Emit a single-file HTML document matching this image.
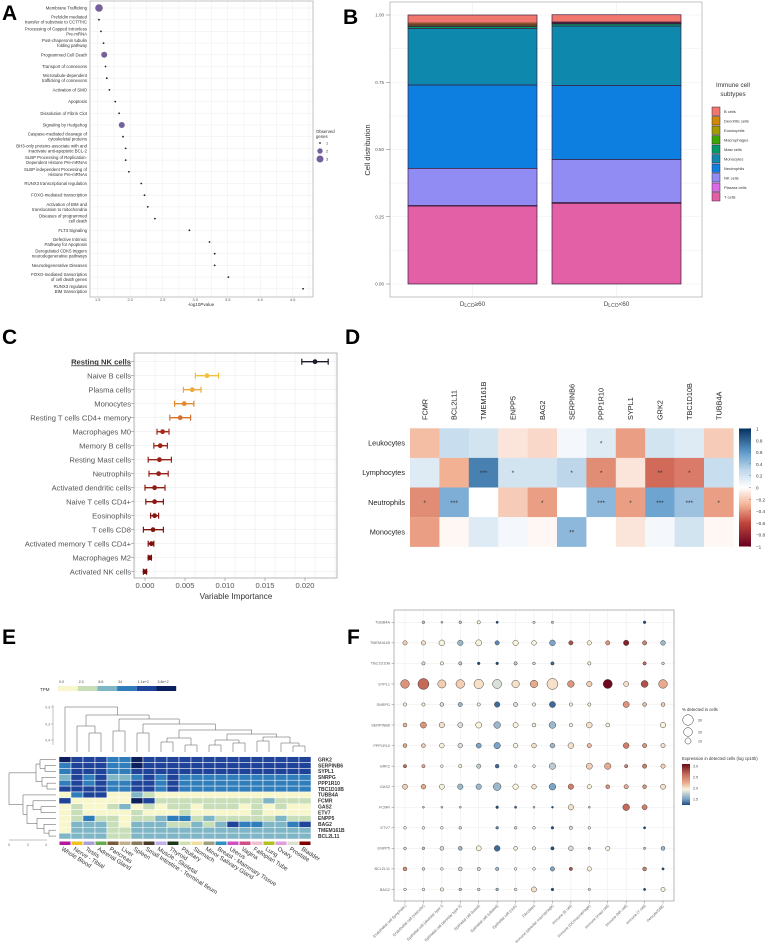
<!DOCTYPE html>
<html><head><meta charset="utf-8"><title>Figure</title>
<style>
html,body{margin:0;padding:0;background:#fff;}
svg{display:block;font-family:"Liberation Sans",Arial,sans-serif;}
</style></head>
<body>
<svg id="fig" xmlns="http://www.w3.org/2000/svg" width="776" height="949" viewBox="0 0 776 949">
<rect x="0" y="0" width="776" height="949" fill="#fff"/>
<defs>
<linearGradient id="gD" x1="0" y1="0" x2="0" y2="1">
<stop offset="0" stop-color="#053061"/><stop offset="0.2" stop-color="#5E9ACB"/><stop offset="0.35" stop-color="#BDD6EA"/><stop offset="0.5" stop-color="#FFFFFF"/><stop offset="0.65" stop-color="#F2B193"/><stop offset="0.8" stop-color="#C0463C"/><stop offset="1" stop-color="#67001F"/>
</linearGradient>
<linearGradient id="gF" x1="0" y1="0" x2="0" y2="1">
<stop offset="0" stop-color="#6B0A1E"/><stop offset="0.25" stop-color="#C36A58"/><stop offset="0.45" stop-color="#E8A98C"/><stop offset="0.62" stop-color="#FAF3DC"/><stop offset="0.85" stop-color="#7BA4C8"/><stop offset="1" stop-color="#1F4E80"/>
</linearGradient>
</defs>
<text x="2" y="20" font-size="21" font-weight="bold">A</text>
<text x="343" y="24" font-size="21" font-weight="bold">B</text>
<text x="2" y="344" font-size="21" font-weight="bold">C</text>
<text x="345" y="344" font-size="21" font-weight="bold">D</text>
<text x="2" y="644" font-size="21" font-weight="bold">E</text>
<text x="347" y="644" font-size="21" font-weight="bold">F</text>
</svg>
<script>
// ===== Panel A data =====
const aCategories = ["Membrane Trafficking","Prefoldin mediated\ntransfer of substrate to CCT/TriC","Processing of Capped Intronless\nPre-mRNA","Post-chaperonin tubulin\nfolding pathway","Programmed Cell Death","Transport of connexons","Microtubule-dependent\ntrafficking of connexons","Activation of SMO","Apoptosis","Dissolution of Fibrin Clot","Signaling by Hedgehog","Caspase-mediated cleavage of\ncytoskeletal proteins","BH3-only proteins associate with and\ninactivate anti-apoptotic BCL-2","SLBP Processing of Replication-\nDependent Histone Pre-mRNAs","SLBP independent Processing of\nHistone Pre-mRNAs","RUNX3 transcriptional regulation","FOXO-mediated transcription","Activation of BIM and\ntranslocation to mitochondria","Diseases of programmed\ncell death","FLT3 Signaling","Defective Intrinsic\nPathway for Apoptosis","Deregulated CDK5 triggers\nneurodegenerative pathways","Neurodegenerative Diseases","FOXO-mediated transcription\nof cell death genes","RUNX3 regulates\nBIM transcription"];
const aValues = [1.52,1.52,1.55,1.59,1.60,1.62,1.64,1.68,1.77,1.83,1.87,1.89,1.93,1.93,1.98,2.17,2.22,2.27,2.38,2.91,3.22,3.30,3.30,3.51,4.66];
const aGenes = [3,1,1,1,2,1,1,1,1,1,2,1,1,1,1,1,1,1,1,1,1,1,1,1,1];
const aTicks = ["1.5","2.0","2.5","3.0","3.5","4.0","4.5"];
// ===== Panel B data =====
const bGroups = ["DLCO≥60","DLCO<60"];
const bTypes = ["T cells","Plasma cells","NK cells","Neutrophils","Monocytes","Mast cells","Macrophages","Eosinophils","Dendritic cells","B cells"];
const bGroup1 = [0.29,0.002,0.138,0.31,0.21,0.007,0.003,0.004,0.006,0.03];
const bGroup2 = [0.30,0.003,0.16,0.275,0.221,0.008,0.002,0.002,0.003,0.027];
const bTicks = ["0.00","0.25","0.50","0.75","1.00"];
// ===== Panel C data =====
const cCategories = ["Resting NK cells","Naive B cells","Plasma cells","Monocytes","Resting T cells CD4+ memory","Macrophages M0","Memory B cells","Resting Mast cells","Neutrophils","Activated dendritic cells","Naive T cells CD4+","Eosinophils","T cells CD8","Activated memory T cells CD4+","Macrophages M2","Activated NK cells"];
const cMean = [0.02125,0.00775,0.0059,0.0049,0.0044,0.0022,0.0019,0.0018,0.0017,0.0012,0.0012,0.0012,0.0010,0.0008,0.0006,0.0000];
const cLow = [0.0196,0.0063,0.0048,0.0037,0.0031,0.0015,0.0011,0.0004,0.0005,0.0000,0.0001,0.0007,-0.0002,0.0004,0.0004,-0.0002];
const cHigh = [0.0229,0.0092,0.0070,0.0061,0.0057,0.0030,0.0028,0.0033,0.0029,0.0025,0.0023,0.0017,0.0023,0.0011,0.0008,0.0002];
const cTicks = ["0.000","0.005","0.010","0.015","0.020"];
// ===== Panel D data =====
const dGenes = ["FCMR","BCL2L11","TMEM161B","ENPP5","BAG2","SERPINB6","PPP1R10","SYPL1","GRK2","TBC1D10B","TUBB4A"];
const dCells = ["Leukocytes","Lymphocytes","Neutrophils","Monocytes"];
const dLeuk = [-0.25,0.25,0.2,-0.1,-0.15,0.05,0.15,-0.35,0.2,0.15,-0.2];
const dLymph = [0.15,-0.3,0.7,0.2,0.2,0.3,-0.4,-0.1,-0.5,-0.45,0.25];
const dNeut = [-0.4,0.5,0,-0.2,-0.35,0,0.45,-0.35,0.55,0.4,-0.35];
const dMono = [-0.35,-0.03,0.15,0.05,-0.03,0.45,0,-0.1,0.05,0.2,-0.03];
const dStarsLeuk = ["","","","","","","*","","","",""];
const dStarsLymph = ["","","***","*","","*","*","","**","*",""];
const dStarsNeut = ["*","***","","","*","","***","*","***","***","*"];
const dStarsMono = ["","","","","","**","","","","",""];
// ===== Panel E data =====
const eTissues = ["Whole Blood","Nerve - Tibial","Testis","Adrenal Gland","Pancreas","Liver","Spleen","Small Intestine - Terminal Ileum","Muscle - Skeletal","Thyroid","Pituitary","Stomach","Minor Salivary Gland","Breast - Mammary Tissue","Uterus","Vagina","Fallopian Tube","Lung","Ovary","Prostate","Bladder"];
const eGenes = ["GRK2","SERPINB6","SYPL1","SNRPG","PPP1R10","TBC1D10B","TUBB4A","FCMR","GAS2","ETV7","ENPP5","BAG2","TMEM161B","BCL2L11"];
const eLevels = [
"544433544444444444444",
"344433544444444444444",
"344433444444444444444",
"243422343433333333333",
"343433443433333333333",
"444433443433333333333",
"034400210000000000000",
"400000541111111112111",
"010012010110111010100",
"010000100010000010000",
"013110112331211111211",
"022210222112124332234",
"022211222222222222222",
"222211222222222222222"];
const eTpmLabels = ["0.0","2.3","8.6","34","1.1e+2","3.8e+2"];
// ===== Panel F data =====
const fGenes = ["TUBB4A","TMEM161B","TBC1D10B","SYPL1","SNRPG","SERPINB6","PPP1R10","GRK2","GAS2","FCMR","ETV7","ENPP5","BCL2L11","BAG2"];
const fCells = ["Endothelial cell (lymphatic)","Endothelial cell (vascular)","Epithelial cell (alveolar type I)","Epithelial cell (alveolar type II)","Epithelial cell (basal)","Epithelial cell (ciliated)","Epithelial cell (club)","Fibroblast","Immune (alveolar macrophage)","Immune (B cell)","Immune (DC/macrophage)","Immune (mast cell)","Immune (NK cell)","Immune (T cell)","Pericyte/SMC"];
const fPct = [
[0,2,1,2,3,1.5,0,1.5,1.5,0,0,0,0,2,0],
[5,5,9,8,10,5,8,6,9,5,5,5,8,5,6],
[0,3,3,3,2,2,3,2,3,0,3,0,0,3,2],
[20,32,18,20,24,22,15,15,32,12,8,22,7,13,20],
[3,3,4,5,3,8,5,3,10,3,3,0,10,4,4],
[4,10,8,7,10,12,7,4,12,3,9,4,0,0,8],
[4,4,6,6,7,11,6,6,6,9,5,0,9,5,5],
[3,3,2,3,5,4,2,2,11,0,10,11,3,5,5],
[7,6,7,8,8,16,8,6,12,8,5,4,5,4,7],
[0,1,1,1,0,2,1.5,1,1,8,1,0,12,7,0],
[2,2,2,2,0,2,2,2,2,3,2,0,0,1.5,0],
[2,2,4,4,7,9,4,3,3,6,1.5,5,0,1.5,4],
[4,2,2,4,3,3,2,2,5,3,5,0,0,4,1.5],
[2,2,3,2,2,2,2,7,2,0,1.5,0,0,1.5,5]];
const fExpr = [
[0,1.8,1.8,1.8,2.0,1.2,0,1.9,1.8,0,0,0,0,1.2,0],
[2.2,2.1,2.0,1.7,2.0,1.5,2.0,2.0,1.6,2.8,2.0,2.5,3.0,2.6,1.7],
[0,1.9,2.0,1.8,1.2,1.3,1.8,1.9,1.4,0,2.0,0,0,2.7,1.9],
[2.5,2.7,2.2,2.2,2.1,1.9,2.1,2.4,2.1,2.5,2.2,3.1,2.1,2.8,2.4],
[2.0,2.0,1.9,1.7,2.0,1.4,1.9,2.0,1.4,2.0,2.0,0,2.5,2.3,2.2],
[2.3,2.5,2.1,1.9,2.0,1.7,2.0,2.0,1.7,2.0,2.1,2.0,0,0,2.0],
[2.4,2.2,2.0,1.9,1.6,1.6,2.0,2.1,1.7,2.1,2.3,0,2.6,2.5,2.1],
[2.7,2.4,2.0,2.0,1.8,1.4,2.0,2.0,1.8,0,2.2,2.4,2.6,2.6,2.2],
[2.2,2.4,2.0,1.7,1.7,1.7,2.0,2.1,1.6,2.6,2.0,2.5,2.4,2.5,2.1],
[0,1.8,1.8,1.8,0,1.3,1.4,1.8,1.2,2.1,1.8,0,2.7,2.6,0],
[2.0,2.0,2.0,1.9,0,1.5,1.9,2.0,1.3,1.9,2.0,0,0,1.3,0],
[1.9,1.8,1.9,1.7,2.0,1.4,2.0,2.0,1.3,1.9,1.8,2.0,0,1.8,1.7],
[2.5,1.9,2.0,1.9,1.9,1.7,2.0,2.0,1.6,2.8,2.0,0,0,2.6,1.2],
[2.0,2.0,2.0,1.8,1.9,1.7,2.0,2.1,1.3,0,1.9,0,0,1.3,2.0]];

const NS = "http://www.w3.org/2000/svg";
const svg = document.getElementById("fig");
function mk(tag, attrs, parent){ const e=document.createElementNS(NS,tag); for(const k in attrs) e.setAttribute(k,attrs[k]); (parent||svg).appendChild(e); return e; }
function tx(x,y,s,attrs){ const e=mk("text",Object.assign({x:x,y:y},attrs||{})); e.textContent=s; return e; }
function hex(c){return [parseInt(c.slice(1,3),16),parseInt(c.slice(3,5),16),parseInt(c.slice(5,7),16)];}
function interp(stops, v){ // stops: [[val,color],...]
  if(v<=stops[0][0]) return stops[0][1];
  for(let i=1;i<stops.length;i++){ if(v<=stops[i][0]){ const t=(v-stops[i-1][0])/(stops[i][0]-stops[i-1][0]); const a=hex(stops[i-1][1]),b=hex(stops[i][1]); return "rgb("+a.map((x,j)=>Math.round(x+(b[j]-x)*t)).join(",")+")"; } }
  return stops[stops.length-1][1];
}

// ===== Panel A =====
(function(){
  const g=mk("g",{});
  
  
  const xA=v=>97.7+(v-1.5)*65, yA=i=>8+i*11.7;
  for(let v=1.5; v<=4.76; v+=0.25){ const l=mk("line",{x1:xA(v),x2:xA(v),y1:1,y2:297,stroke:"#ececec","stroke-width":0.5},g); }
  aCategories.forEach((c,i)=>{ mk("line",{x1:90,x2:313,y1:yA(i),y2:yA(i),stroke:"#ececec","stroke-width":0.5},g); });
  const box=mk("rect",{x:90,y:1,width:223,height:296,fill:"none",stroke:"#aaa","stroke-width":0.7},g);
  
  
  aCategories.forEach((c,i)=>{
    const lines=c.split("\n");
    lines.forEach((ln,k)=>{
      const t=tx(87,yA(i)+1.5+(k-(lines.length-1)/2)*5,ln,{"font-size":4.3,fill:"#333","text-anchor":"end"},g);
      
      
    });
    const r=aGenes[i]===1?0.9:(aGenes[i]===2?3:3.8);
    const p=mk("circle",{cx:xA(aValues[i]),cy:yA(i),r:r,fill:aGenes[i]===1?"#222":"#74619C"},g);
    
    
  });
  aTicks.forEach(t=>{ const v=parseFloat(t); const e=tx(xA(v),301,t,{"font-size":3.8,fill:"#555","text-anchor":"middle"},g);
    
     });
  const xt=tx(201,306,"-log10Pvalue",{"font-size":4.5,fill:"#333","text-anchor":"middle"},g);
  
  
  const lg=mk("g",{},g);
  
  
  tx(316,133,"Observed",{"font-size":4.3,fill:"#333"},lg); tx(316,138,"genes",{"font-size":4.3,fill:"#333"},lg);
  [[1,0.9,143],[2,2.7,151],[3,3.5,159]].forEach(a=>{ mk("circle",{cx:320,cy:a[2],r:a[1],fill:a[0]===1?"#222":"#74619C"},lg); tx(326,a[2]+1.5,String(a[0]),{"font-size":3.8,fill:"#333"},lg); });
})();

// ===== Panel B =====
(function(){
  const g=mk("g",{});
  
  
  const yB=v=>284-v*269;
  const colors={"B cells":"#F1766D","Dendritic cells":"#D08A00","Eosinophils":"#A39E00","Macrophages":"#3BA800","Mast cells":"#009A67","Monocytes":"#0F88AE","Neutrophils":"#0C7FE0","NK cells":"#918CF4","Plasma cells":"#DC6AE8","T cells":"#E35FA6"};
  for(let v=0; v<=1.0001; v+=0.125) mk("line",{x1:390,x2:702,y1:yB(v),y2:yB(v),stroke:"#ececec","stroke-width":0.6},g);
  [472.5,616.5].forEach(x=>mk("line",{x1:x,x2:x,y1:2,y2:297,stroke:"#ececec","stroke-width":0.6},g));
  const box=mk("rect",{x:390,y:2,width:312,height:295,fill:"none",stroke:"#aaa","stroke-width":0.7},g);
  
  
  const xs=[408,552];
  [bGroup1,bGroup2].forEach((vals,gi)=>{
    let cum=0;
    vals.forEach((v,i)=>{
      const r=mk("rect",{x:xs[gi],y:yB(cum+v),width:129,height:Math.max(0.3,yB(cum)-yB(cum+v)),fill:colors[bTypes[i]],stroke:"#3a2040","stroke-width":0.7},g);
      
      
      cum+=v;
    });
  });
  bTicks.forEach(t=>{ const v=parseFloat(t); mk("line",{x1:386,x2:390,y1:yB(v),y2:yB(v),stroke:"#777","stroke-width":0.5},g);
    const e=tx(384,yB(v)+1.5,t,{"font-size":4.5,fill:"#555","text-anchor":"end"},g);
    
     });
  const yt=tx(0,0,"Cell distribution",{"font-size":7.5,fill:"#333","text-anchor":"middle",transform:"translate(370,150) rotate(-90)"},g);
  
  
  bGroups.forEach((s,i)=>{
    const cx=xs[i]+64.5;
    const t=mk("text",{x:cx,y:306,"font-size":6.3,fill:"#444","text-anchor":"middle"},g);
    
    
    const a=document.createElementNS(NS,"tspan"); a.textContent="D"; t.appendChild(a);
    const b=document.createElementNS(NS,"tspan"); b.setAttribute("font-size","5"); b.setAttribute("dy","1"); b.textContent="LCO"; t.appendChild(b);
    const c=document.createElementNS(NS,"tspan"); c.setAttribute("dy","-1"); c.textContent=s.slice(4); t.appendChild(c);
  });
  const lg=mk("g",{},g);
  
  
  tx(733,87,"Immune cell",{"font-size":6.3,fill:"#333","text-anchor":"middle"},lg);
  tx(733,96,"subtypes",{"font-size":6.3,fill:"#333","text-anchor":"middle"},lg);
  const order=["B cells","Dendritic cells","Eosinophils","Macrophages","Mast cells","Monocytes","Neutrophils","NK cells","Plasma cells","T cells"];
  order.forEach((n,i)=>{
    const y=107+i*9.5;
    const r=mk("rect",{x:712,y:y,width:8,height:8.5,fill:colors[n],stroke:"#3a2040","stroke-width":0.5},lg);
    
    
    tx(724,y+6,n,{"font-size":4,fill:"#333"},lg);
  });
})();

// ===== Panel C =====
(function(){
  const g=mk("g",{});
  
  
  const xC=v=>145+v*8000, yC=i=>361.7+i*14;
  for(let v=-0.00125; v<=0.024; v+=0.0025) mk("line",{x1:xC(v),x2:xC(v),y1:353,y2:578,stroke:"#e8e8e8","stroke-width":0.5},g);
  cCategories.forEach((c,i)=>mk("line",{x1:134,x2:337,y1:yC(i),y2:yC(i),stroke:"#e8e8e8","stroke-width":0.5},g));
  const box=mk("rect",{x:134,y:353,width:203,height:225,fill:"none",stroke:"#999","stroke-width":0.7},g);
  
  
  const cols=["#1a1a2a","#F2C040","#EFA83A","#E08A30","#D4712C","#A52A1A","#9E2418","#98221A","#952018","#8E1C14","#8A1A12","#851810","#82160E","#7E120C","#7A0E0A","#760A08"];
  cCategories.forEach((c,i)=>{
    const y=yC(i), col=cols[i];
    const eg=mk("g",{},g);
    
    
    mk("line",{x1:xC(cLow[i]),x2:xC(cHigh[i]),y1:y,y2:y,stroke:col,"stroke-width":1.4},eg);
    mk("line",{x1:xC(cLow[i]),x2:xC(cLow[i]),y1:y-3,y2:y+3,stroke:col,"stroke-width":1.2},eg);
    mk("line",{x1:xC(cHigh[i]),x2:xC(cHigh[i]),y1:y-3,y2:y+3,stroke:col,"stroke-width":1.2},eg);
    mk("circle",{cx:xC(cMean[i]),cy:y,r:2.4,fill:col},eg);
    mk("line",{x1:131,x2:134,y1:y,y2:y,stroke:"#777","stroke-width":0.5},g);
    const t=tx(131,y+2.7,c,{"font-size":7.6,fill:i===0?"#333":"#555","text-anchor":"end","font-weight":i===0?"bold":"normal","text-decoration":i===0?"underline":"none"},g);
    
    
  });
  cTicks.forEach(t=>{ const v=parseFloat(t); mk("line",{x1:xC(v),x2:xC(v),y1:578,y2:581,stroke:"#777","stroke-width":0.5},g);
    const e=tx(xC(v),588,t,{"font-size":7.6,fill:"#555","text-anchor":"middle"},g);
    
     });
  const xt=tx(236,599,"Variable Importance",{"font-size":8.2,fill:"#333","text-anchor":"middle"},g);
  
  
})();

// ===== Panel D =====
(function(){
  const g=mk("g",{});
  
  
  const stops=[[-1,"#67001F"],[-0.6,"#C0463C"],[-0.3,"#F2B193"],[0,"#FFFFFF"],[0.3,"#BDD6EA"],[0.6,"#5E9ACB"],[1,"#053061"]];
  const x0=410,cw=29.4,y0=428.3,rh=29.6;
  const rows=[dLeuk,dLymph,dNeut,dMono], stars=[dStarsLeuk,dStarsLymph,dStarsNeut,dStarsMono];
  rows.forEach((vals,r)=>{
    vals.forEach((v,c)=>{
      const cell=mk("rect",{x:x0+c*cw,y:y0+r*rh,width:cw+0.2,height:rh+0.2,fill:interp(stops,v)},g);
      
      
      if(stars[r][c]) tx(x0+c*cw+cw/2,y0+r*rh+rh/2+2.5,stars[r][c],{"font-size":6.5,fill:"#333","text-anchor":"middle"},g);
    });
    const t=tx(405,y0+r*rh+rh/2+2.5,dCells[r],{"font-size":7.3,fill:"#222","text-anchor":"end"},g);
    
    
  });
  dGenes.forEach((gn,c)=>{
    const t=tx(0,0,gn,{"font-size":7.3,fill:"#222",transform:"translate("+(x0+c*cw+cw/2+2.6)+",420) rotate(-90)"},g);
    
    
  });
  const cb=mk("rect",{x:739,y:428.5,width:12,height:118,fill:"url(#gD)"},g);
  
  
  for(let i=0;i<=10;i++){ const v=1-i*0.2; const y=428.5+i*11.8;
    mk("line",{x1:749,x2:751,y1:y,y2:y,stroke:"#555","stroke-width":0.4},g);
    const lbl=Math.abs(v)<1e-9?"0":(Math.round(v*10)/10).toString().replace("-","−");
    tx(756,y+2,lbl,{"font-size":4.6,fill:"#333"},g); }
})();

// ===== Panel E =====
(function(){
  const g=mk("g",{});
  
  
  const pal=["#F8F6CB","#C8DEB8","#7FB6C6","#2F7DBA","#20439A","#0A1F5C"];
  const x0=59,cw=12,y0=756.7,rh=5.88;
  // TPM legend
  const lt=tx(40,691,"TPM",{"font-size":4.5,fill:"#333"},g);
  
  
  pal.forEach((c,i)=>{ const r=mk("rect",{x:58+i*19.7,y:686,width:19.7,height:5,fill:c},g);
    
    
    tx(58+i*19.7+1,683,eTpmLabels[i],{"font-size":3.6,fill:"#444"},g); });
  // dendrogram axis
  [["0.3",707],["0.3",724],["0.4",740]].forEach(a=>{ tx(50,a[1]+1.3,a[0],{"font-size":3.3,fill:"#666","text-anchor":"end"},g); mk("line",{x1:51,x2:53,y1:a[1],y2:a[1],stroke:"#666","stroke-width":0.4},g); });
  mk("line",{x1:53,x2:53,y1:705,y2:745,stroke:"#666","stroke-width":0.4},g);
  // column dendrogram
  const LX=i=>x0+cw/2+i*cw;
  const colTree=[707,0,[715,[726,1,[733,2,3]],[719,[731,4,5],[724,[733,6,7],[730,[738,[742,8,9],[745,10,11]],[734,[740,[745,12,13],[743,14,15]],[737,[741,16,17],[743,18,[746,19,20]]]]]]]]];
  let dpath="";
  function dc(n){ if(typeof n==="number") return {x:LX(n),y:752};
    const a=dc(n[1]), b=dc(n[2]); dpath+="M"+a.x+","+a.y+"V"+n[0]+"H"+b.x+"V"+b.y;
    return {x:(a.x+b.x)/2,y:n[0]}; }
  dc(colTree);
  const dp=mk("path",{d:dpath,fill:"none",stroke:"#555","stroke-width":0.5},g);
  
  
  // row dendrogram
  const LY=i=>y0+rh/2+i*rh;
  const rowTree=[9,[36,[40,0,[45,1,2]],[42,3,[47,4,5]]],[23,6,[27,[33,7,[41,8,9]],[37,10,[44,11,[49,12,13]]]]]];
  let rpath="";
  function dr(n){ if(typeof n==="number") return {x:56,y:LY(n)};
    const a=dr(n[1]), b=dr(n[2]); rpath+="M"+a.x+","+a.y+"H"+n[0]+"V"+b.y+"H"+b.x;
    return {x:n[0],y:(a.y+b.y)/2}; }
  dr(rowTree);
  const rp=mk("path",{d:rpath,fill:"none",stroke:"#555","stroke-width":0.5},g);
  
  
  mk("line",{x1:9,x2:47,y1:840,y2:840,stroke:"#666","stroke-width":0.4},g);
  [["0",9],["2",28],["4",46]].forEach(a=>tx(a[1],846,a[0],{"font-size":3.5,fill:"#666","text-anchor":"middle"},g));
  // cells
  eLevels.forEach((row,r)=>{
    for(let c=0;c<row.length;c++){
      const cell=mk("rect",{x:x0+c*cw,y:y0+r*rh,width:cw,height:rh,fill:pal[+row[c]],stroke:"#fff","stroke-width":0.5},g);
      
      
    }
    const t=tx(318,y0+r*rh+rh/2+1.8,eGenes[r],{"font-size":5,fill:"#333","font-weight":"bold"},g);
    
    
  });
  const strip=["#B5179E","#F0C020","#A8A0D8","#6AA84F","#7A5A3A","#C0B090","#8A7A5A","#4A3A2A","#C0B0E8","#1A3A1A","#D0E0B0","#F0E0A0","#A0A080","#3090C0","#D050C0","#D0508A","#F0C0D0","#B0C020","#E0A0E0","#E0E0D0","#800000"];
  eTissues.forEach((n,c)=>{
    const s=mk("rect",{x:x0+c*cw+0.5,y:841.5,width:cw-1,height:3.5,fill:strip[c]},g);
    
    
    const t=tx(0,0,n,{"font-size":6,fill:"#333",transform:"translate("+(x0+c*cw+2)+",850) rotate(32)"},g);
    
    
  });
})();

// ===== Panel F =====
(function(){
  const g=mk("g",{});
  
  
  const stops=[[1.3,"#1F4E80"],[1.6,"#7BA4C8"],[2.0,"#FAF3DC"],[2.4,"#E8A98C"],[2.7,"#C36A58"],[3.1,"#6B0A1E"]];
  const xF=i=>405+i*18.43, yF=i=>622.3+i*20.55;
  const rF=p=>5.3*Math.sqrt(p/30);
  fCells.forEach((c,i)=>mk("line",{x1:xF(i),x2:xF(i),y1:610,y2:901,stroke:"#ebebeb","stroke-width":0.5},g));
  fGenes.forEach((c,i)=>mk("line",{x1:394,x2:674,y1:yF(i),y2:yF(i),stroke:"#ebebeb","stroke-width":0.5},g));
  const box=mk("rect",{x:394,y:610,width:280,height:291,fill:"none",stroke:"#999","stroke-width":0.7},g);
  
  
  fGenes.forEach((gn,r)=>{
    mk("line",{x1:391.5,x2:394,y1:yF(r),y2:yF(r),stroke:"#666","stroke-width":0.4},g);
    const t=tx(390,yF(r)+1.3,gn,{"font-size":3.8,fill:"#666","text-anchor":"end"},g);
    
    
    fPct[r].forEach((p,c)=>{
      if(!p) return;
      const d=mk("circle",{cx:xF(c),cy:yF(r),r:Math.max(0.8,rF(p)),fill:interp(stops,fExpr[r][c]),stroke:"#333","stroke-width":0.45},g);
      
      
    });
  });
  fCells.forEach((n,c)=>{
    mk("line",{x1:xF(c),x2:xF(c),y1:901,y2:903.5,stroke:"#666","stroke-width":0.4},g);
    const t=tx(0,0,n,{"font-size":3.8,fill:"#666","text-anchor":"end",transform:"translate("+(xF(c)+1.5)+",906) rotate(-45)"},g);
    
    
  });
  const lg=mk("g",{},g);
  
  
  tx(682,711,"% detected in cells",{"font-size":4.3,fill:"#333"},lg);
  [[30,720],[20,732],[10,741]].forEach(a=>{ mk("circle",{cx:688,cy:a[1],r:rF(a[0]),fill:"#fff",stroke:"#333","stroke-width":0.5},lg); tx(698,a[1]+1.3,String(a[0]),{"font-size":3.6,fill:"#444"},lg); });
  const lg2=mk("g",{},g);
  
  
  tx(682,760,"Expression in detected cells (log cp10k)",{"font-size":4.3,fill:"#333"},lg2);
  mk("rect",{x:682,y:764,width:8,height:41,fill:"url(#gF)"},lg2);
  [["3.0",766],["2.5",777],["2.0",788],["1.5",799]].forEach(a=>tx(693,a[1]+1.3,a[0],{"font-size":3.6,fill:"#444"},lg2));
})();
</script>
</body></html>
